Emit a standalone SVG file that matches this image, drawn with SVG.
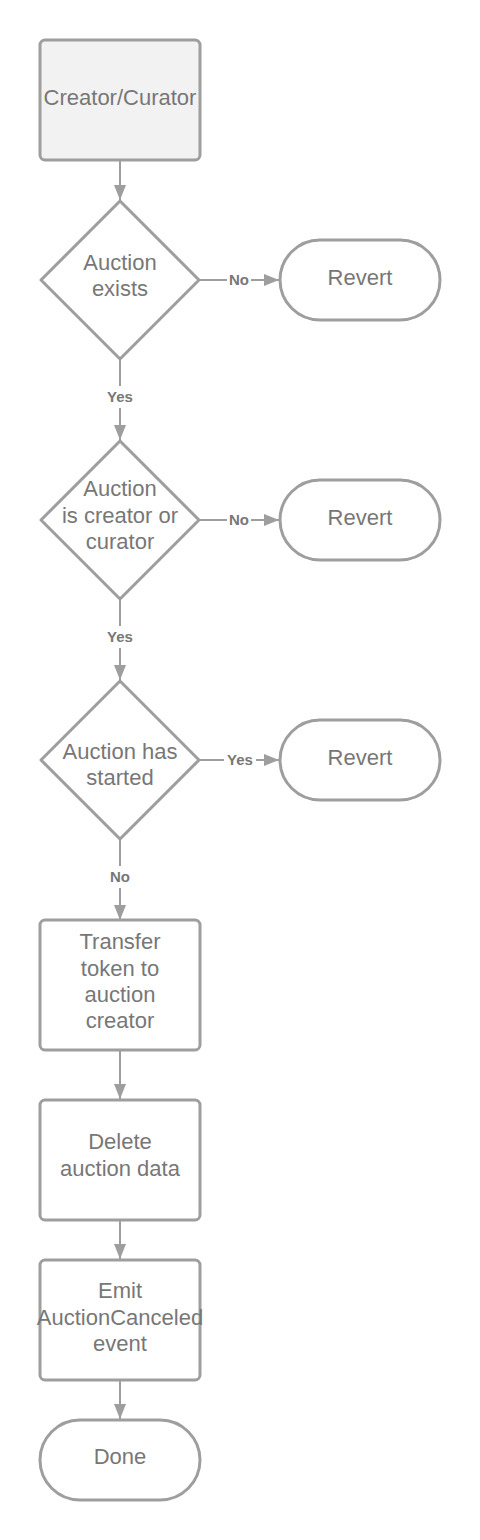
<svg xmlns="http://www.w3.org/2000/svg" width="480" height="1540" viewBox="0 0 480 1540">
<style>
.shape{fill:#ffffff;stroke:#9e9e9e;stroke-width:3;stroke-linejoin:round}
.start{fill:#f2f2f2}
.t{font-family:"Liberation Sans",Arial,sans-serif;font-size:22px;fill:#777777;text-anchor:middle}
.lbl{font-family:"Liberation Sans",Arial,sans-serif;font-size:15px;font-weight:bold;fill:#777777;text-anchor:middle}
.c{fill:none;stroke:#9e9e9e;stroke-width:2}
.bg{fill:#ffffff}
</style>
<defs>
<marker id="arr" markerUnits="userSpaceOnUse" markerWidth="16" markerHeight="12" refX="15" refY="6" orient="auto">
<path d="M0,0 L15,6 L0,12 z" fill="#9e9e9e"/>
</marker>
</defs>
<rect width="480" height="1540" fill="#ffffff"/>
<g id="connectors">
<line class="c" x1="120" y1="161" x2="120" y2="200" marker-end="url(#arr)"/>
<line class="c" x1="120" y1="360" x2="120" y2="440" marker-end="url(#arr)"/>
<line class="c" x1="120" y1="600" x2="120" y2="680" marker-end="url(#arr)"/>
<line class="c" x1="120" y1="840" x2="120" y2="920" marker-end="url(#arr)"/>
<line class="c" x1="120" y1="1051" x2="120" y2="1099" marker-end="url(#arr)"/>
<line class="c" x1="120" y1="1221" x2="120" y2="1259" marker-end="url(#arr)"/>
<line class="c" x1="120" y1="1381" x2="120" y2="1419" marker-end="url(#arr)"/>
<line class="c" x1="200" y1="280" x2="279" y2="280" marker-end="url(#arr)"/>
<line class="c" x1="200" y1="520" x2="279" y2="520" marker-end="url(#arr)"/>
<line class="c" x1="200" y1="760" x2="279" y2="760" marker-end="url(#arr)"/>
<rect class="bg" x="104" y="386" width="32" height="22"/>
<text class="lbl" x="120" y="402">Yes</text>
<rect class="bg" x="104" y="626" width="32" height="22"/>
<text class="lbl" x="120" y="642">Yes</text>
<rect class="bg" x="107" y="866" width="26" height="22"/>
<text class="lbl" x="120" y="882">No</text>
<rect class="bg" x="227" y="271" width="24" height="18"/>
<text class="lbl" x="239" y="285">No</text>
<rect class="bg" x="227" y="511" width="24" height="18"/>
<text class="lbl" x="239" y="525">No</text>
<rect class="bg" x="224" y="751" width="32" height="18"/>
<text class="lbl" x="240" y="765">Yes</text>
</g>
<g id="start">
<rect class="shape start" x="40" y="40" width="160" height="120" rx="5"/>
<text class="t" x="120" y="105">Creator/Curator</text>
</g>
<g id="d1">
<polygon class="shape" points="120,201 199,280 120,359 41,280"/>
<text class="t" x="120" y="270">Auction</text>
<text class="t" x="120" y="296">exists</text>
</g>
<g id="r1">
<rect class="shape" x="280" y="240" width="160" height="80" rx="40"/>
<text class="t" x="360" y="285">Revert</text>
</g>
<g id="d2">
<polygon class="shape" points="120,441 199,520 120,599 41,520"/>
<text class="t" x="120" y="496">Auction</text>
<text class="t" x="120" y="523">is creator or</text>
<text class="t" x="120" y="549">curator</text>
</g>
<g id="r2">
<rect class="shape" x="280" y="480" width="160" height="80" rx="40"/>
<text class="t" x="360" y="525">Revert</text>
</g>
<g id="d3">
<polygon class="shape" points="120,681 199,760 120,839 41,760"/>
<text class="t" x="120" y="759">Auction has</text>
<text class="t" x="120" y="785">started</text>
</g>
<g id="r3">
<rect class="shape" x="280" y="720" width="160" height="80" rx="40"/>
<text class="t" x="360" y="765">Revert</text>
</g>
<g id="transfer">
<rect class="shape" x="40" y="920" width="160" height="130" rx="5"/>
<text class="t" x="120" y="949">Transfer</text>
<text class="t" x="120" y="976">token to</text>
<text class="t" x="120" y="1002">auction</text>
<text class="t" x="120" y="1028">creator</text>
</g>
<g id="delete">
<rect class="shape" x="40" y="1100" width="160" height="120" rx="5"/>
<text class="t" x="120" y="1149">Delete</text>
<text class="t" x="120" y="1176">auction data</text>
</g>
<g id="emit">
<rect class="shape" x="40" y="1260" width="160" height="120" rx="5"/>
<text class="t" x="120" y="1298">Emit</text>
<text class="t" x="120" y="1325">AuctionCanceled</text>
<text class="t" x="120" y="1351">event</text>
</g>
<g id="done">
<rect class="shape" x="40" y="1420" width="160" height="80" rx="40"/>
<text class="t" x="120" y="1464">Done</text>
</g>
</svg>
